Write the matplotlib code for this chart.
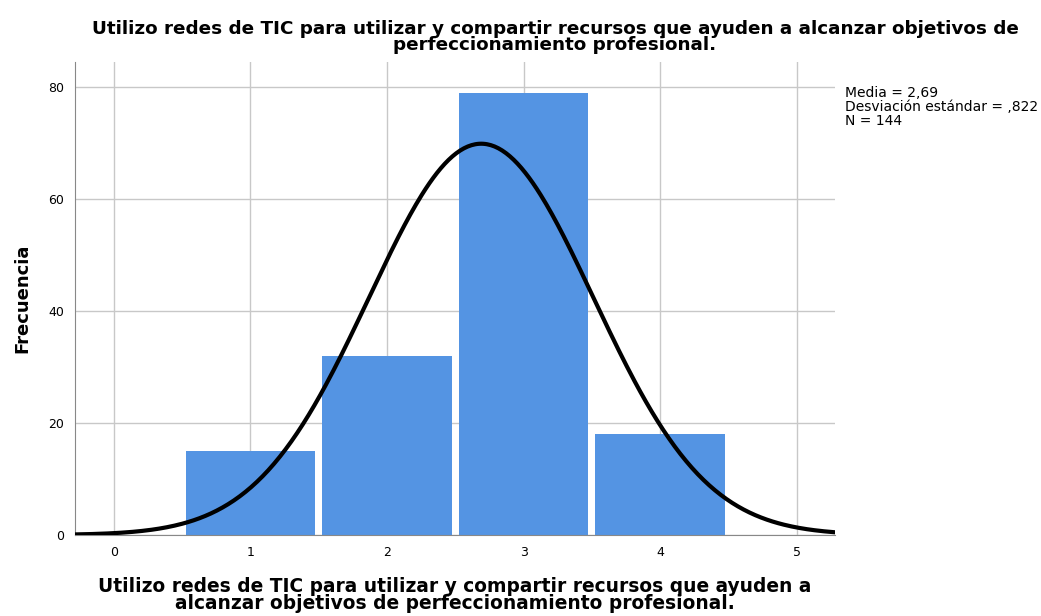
import numpy as np
import matplotlib.pyplot as plt

# frequencies per response value
valores = [1, 2, 3, 4]
frecuencias = [15, 32, 79, 18]
media = 2.69
desv = 0.822
n = 144

titulo = "Utilizo redes de TIC para utilizar y compartir recursos que ayuden a alcanzar objetivos de\nperfeccionamiento profesional."
xlabel = "Utilizo redes de TIC para utilizar y compartir recursos que ayuden a\nalcanzar objetivos de perfeccionamiento profesional."

fig = plt.figure(figsize=(10.41, 6.16), dpi=100)
ax = fig.add_axes([0.072, 0.1315, 0.730, 0.768])

ax.bar(valores, frecuencias, width=0.95, color="#5494E3", edgecolor="none", zorder=2)

x = np.linspace(-0.3, 5.3, 400)
curva = n * 1.0 / (desv * np.sqrt(2 * np.pi)) * np.exp(-0.5 * ((x - media) / desv) ** 2)
ax.plot(x, curva, color="black", lw=3, zorder=3)

ax.set_xlim(-0.285, 5.28)
ax.set_ylim(0, 84.5)
ax.set_xticks(range(0, 6))
ax.set_yticks([0, 20, 40, 60, 80])
ax.grid(True, color="#c8c8c8", lw=1, zorder=0)
ax.set_axisbelow(True)
for s in ["top", "right"]:
    ax.spines[s].set_visible(False)
for s in ["left", "bottom"]:
    ax.spines[s].set_color("#888888")
ax.tick_params(length=0, labelsize=9, pad=8)

fig.text(555 / 1041, 1 - 20 / 616, titulo, fontsize=13.2, fontweight="bold",
         ha="center", va="top", linespacing=0.85)
ax.set_xlabel(xlabel, fontsize=13.4, fontweight="bold", labelpad=13, linespacing=0.85)
ax.set_ylabel("Frecuencia", fontsize=13, fontweight="bold", labelpad=12)

fig.text(0.812, 0.861, "Media = 2,69\nDesviación estándar = ,822\nN = 144",
         fontsize=10, va="top", ha="left", linespacing=1.0)

fig.savefig("out.png", dpi=100)
